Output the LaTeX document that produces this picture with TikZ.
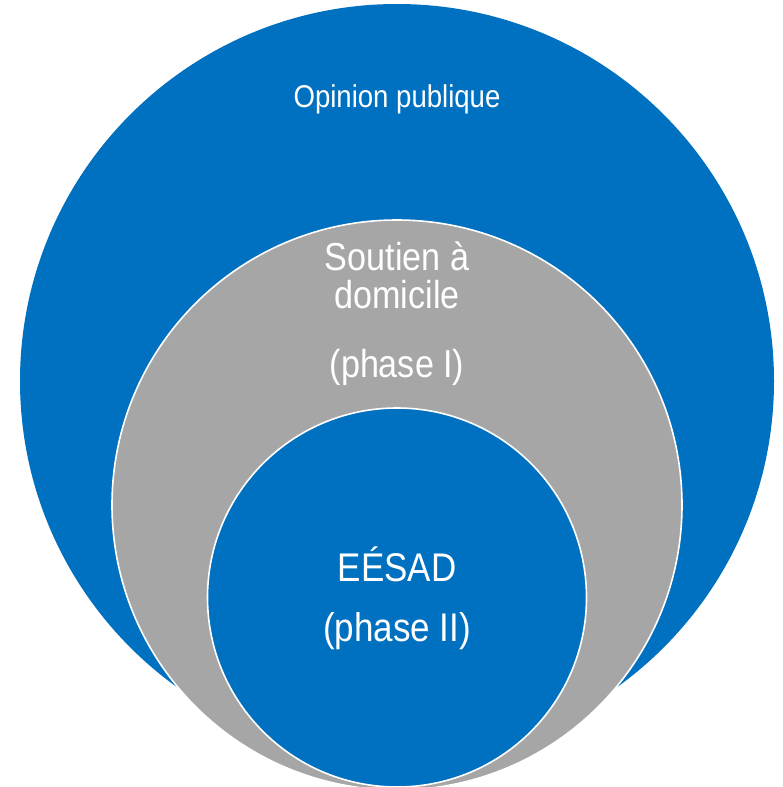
\documentclass[tikz,border=0pt]{standalone}
\usepackage{fontspec}
\setmainfont{Liberation Sans}[FakeStretch=0.875]
\definecolor{ringblue}{HTML}{0070C0}
\definecolor{ringgray}{HTML}{A6A6A6}
\begin{document}
\begin{tikzpicture}[x=1pt,y=-1pt,
  ring/.style={circle, inner sep=0pt, outer sep=0pt},
  label/.style={text=white, anchor=base, inner sep=0pt},
  bigtxt/.style={font=\fontsize{39}{38}\selectfont},
  smalltxt/.style={font=\fontsize{31.5}{32}\selectfont}]
\useasboundingbox (0,0) rectangle (783,787);
\begin{scope}
\clip (0,0) rectangle (783,787);
\node[ring, fill=ringblue, minimum size=754pt] (outer) at (397,381) {};
\node[ring, fill=ringgray, draw=white, line width=1.6pt, minimum size=570pt] (middle) at (397,505) {};
\node[ring, fill=ringblue, draw=white, line width=1.6pt, minimum size=379pt] (inner) at (397,597.5) {};
\end{scope}
\node[label, smalltxt] (t1) at (397,107) {Opinion publique};
\node[label, bigtxt] (t2) at (397,270) {Soutien à};
\node[label, bigtxt] (t3) at (397,308) {domicile};
\node[label, bigtxt] (t4) at (397,377) {(phase I)};
\node[label, bigtxt, font=\fontsize{40}{40}\selectfont] (t5) at (397,581) {EÉSAD};
\node[label, bigtxt, font=\fontsize{40}{40}\selectfont] (t6) at (397,641) {(phase II)};
\end{tikzpicture}
\end{document}
